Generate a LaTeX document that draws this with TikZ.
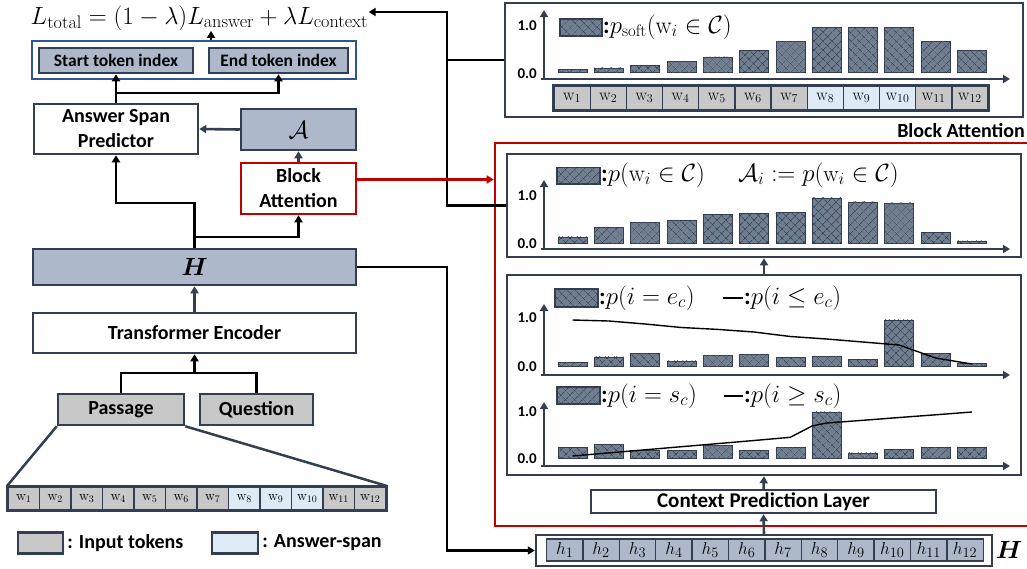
\documentclass[tikz,border=0pt]{standalone}
\usepackage{amsmath}
\usepackage{fontspec}
\setsansfont{Carlito}
\usetikzlibrary{arrows.meta,patterns.meta,calc}
\definecolor{dk}{RGB}{51,63,80}
\definecolor{gb}{RGB}{173,185,202}
\definecolor{tg}{RGB}{200,200,200}
\definecolor{tb}{RGB}{222,235,247}
\definecolor{rd}{RGB}{192,0,0}
\definecolor{bl}{RGB}{47,85,151}
\definecolor{barf}{RGB}{112,126,145}
\definecolor{hatchc}{RGB}{40,50,64}
\newcommand\lbl{\sffamily\bfseries\fontsize{20}{25}\selectfont}
\newcommand\smlbl{\sffamily\bfseries\fontsize{17.5}{20}\selectfont}
\newcommand\axlbl{\sffamily\bfseries\fontsize{15}{17}\selectfont}
\newcommand\mfont{\fontsize{24}{27}\selectfont}
\newcommand\barsrow[2]{%
  \foreach \hh [count=\kk from 0] in {#2} {\draw[hbar] ({558+36.3*\kk},#1) rectangle ++(29,-\hh);}}
\begin{document}
\begin{tikzpicture}[x=1pt,y=-1pt,
  bx/.style={draw=dk, line width=2.5pt, inner sep=0pt, align=center, font=\lbl},
  ln/.style={black, line width=2.8pt},
  arr/.style={ln, -{Triangle[length=7pt,width=8pt]}},
  darr/.style={dk, line width=2.6pt, -{Triangle[length=7pt,width=8pt]}},
  rarr/.style={rd, line width=2.6pt, -{Triangle[length=7pt,width=8pt]}},
  ax/.style={dk, line width=2.2pt, -{Triangle[length=7pt,width=8pt]}},
  axl/.style={font=\axlbl, anchor=east, inner sep=1pt},
  hbar/.style={draw=dk, line width=0.6pt, fill=barf,
    postaction={pattern={Lines[angle=45,distance=6.5pt,line width=0.5pt]},pattern color=hatchc},
    postaction={pattern={Lines[angle=-45,distance=6.5pt,line width=0.5pt]},pattern color=hatchc}},
  cell/.style={draw=dk, line width=1.3pt, inner sep=0pt},
  leg/.style={anchor=west, inner sep=0pt, font=\mfont},
]
\useasboundingbox (0,0) rectangle (1027,568);

% ---------- left column ----------
\node[font=\fontsize{26}{29}\selectfont, inner sep=0.5pt, anchor=base west] (loss) at (30,24) {$L_{\text{total}} = (1-\lambda)L_{\text{answer}} + \lambda L_{\text{context}}$};
\coordinate (jy) at (0,12);
\coordinate (lossin) at (loss.east |- jy);
\node[draw=bl, line width=2pt, minimum width=324, minimum height=38, inner sep=0] (outer) at (194,60) {};
\node[bx, fill=gb, minimum width=154, minimum height=25, font=\smlbl] (start) at (116,60.5) {Start token index};
\node[bx, fill=gb, minimum width=139, minimum height=25, font=\smlbl] (endt) at (278.5,60.5) {End token index};
\node[bx, fill=white, minimum width=164, minimum height=50] (asp) at (116,129) {Answer Span\\Predictor};
\node[bx, fill=gb, minimum width=115, minimum height=41] (A) at (298.5,129.5) {\fontsize{30}{32}\selectfont$\mathcal{A}$};
\node[bx, draw=rd, fill=white, minimum width=115, minimum height=51] (ba) at (298.5,188.5) {Block\\Attention};
\node[bx, fill=gb, minimum width=323, minimum height=36] (H) at (194.5,267) {\fontsize{31}{32}\selectfont$\boldsymbol{H}$};
\node[bx, fill=white, minimum width=323, minimum height=40] (te) at (194.5,333) {Transformer Encoder};
\node[bx, fill=tg, minimum width=126, minimum height=31] (pas) at (121,409.5) {Passage};
\node[bx, fill=tg, minimum width=113, minimum height=31] (que) at (256.5,409.5) {Question};

% passage tokens
\node[draw=dk, line width=2pt, minimum width=378, minimum height=23, inner sep=0] (prow) at (197,498.5) {};
\foreach \i/\c in {1/tg,2/tg,3/tg,4/tg,5/tg,6/tg,7/tg,8/tb,9/tb,10/tb,11/tg,12/tg}
  \node[cell, fill=\c, minimum width=31.5, minimum height=23, font=\fontsize{14}{16}\selectfont] (pw\i) at ({8+31.5*(\i-0.5)},498.5) {$\mathrm{w}_{\i}$};
\draw[dk, line width=2pt] (prow.north west) rectangle (prow.south east);
\draw[dk, line width=2.5pt] (pas.south west) -- (prow.north west);
\draw[dk, line width=2.5pt] (pas.south east) -- (prow.north east);

% legend
\node[cell, line width=2.5pt, fill=tg, minimum width=45, minimum height=21] (lg1) at (40.5,543) {};
\node[anchor=west, font=\lbl, inner sep=3pt] (lt1) at (lg1.east) {: Input tokens};
\node[cell, line width=2.5pt, fill=tb, minimum width=46, minimum height=21] (lg2) at (235,543) {};
\node[anchor=west, font=\lbl, inner sep=3pt] (lt2) at (lg2.east) {: Answer-span};

% junctions
\coordinate (j1) at (0,203);
\coordinate (j2) at (0,237);
\coordinate (j3) at (0,93);
\coordinate (j4) at (0,373);
\coordinate (jx) at (447,0);

% left connectors
\draw[arr] (outer.north -| 211,0) -- (loss.south -| 211,0);
\draw[arr] (asp.north) -- (start.south);
\draw[arr] (asp.north |- j3) -| (endt.south);
\draw[darr] (A.west) -- (asp.east);
\draw[darr] (ba.north) -- (A.south);
\draw[arr] (H.north) -- (H.north |- j1) -| (asp.south);
\draw[arr] (H.north |- j2) -| (ba.south);
\draw[darr] (te.north) -- (H.south);
\draw[ln] (pas.north) -- (pas.north |- j4) -- (que.north |- j4) -- (que.north);
\draw[arr] (te.south |- j4) -- (te.south);

% ---------- right side ----------
\node[draw=rd, line width=2.6pt, minimum width=540, minimum height=383, inner sep=0] (red) at (765,334.5) {};
\node[anchor=east, font=\lbl, inner sep=0pt] (balbl) at (1025,131) {Block Attention};

\node[bx, fill=white, minimum width=518, minimum height=114] (top) at (764,60) {};
\node[bx, fill=white, minimum width=514, minimum height=103] (mid) at (764,205.5) {};
\node[bx, fill=white, minimum width=514, minimum height=200] (bot) at (764,375) {};
\node[bx, fill=white, minimum width=345, minimum height=23, font=\sffamily\bfseries\fontsize{21}{24}\selectfont] (cpl) at (763.5,501.5) {Context Prediction Layer};
\node[bx, fill=white, minimum width=456, minimum height=31] (hrow) at (764,550.5) {};
\foreach \i in {1,...,12}
  \node[cell, fill=gb, minimum width=36.4, minimum height=22, font=\fontsize{19}{20}\selectfont] (h\i) at ({546.5+36.4*(\i-0.5)},550) {$h_{\i}$};
\node[inner sep=0pt] (Hr) at (1009,550) {\fontsize{32}{34}\selectfont$\boldsymbol{H}$};

% top chart
\barsrow{72.6}{3.1,4.8,7.5,11,15.8,21.9,31.5,45.2,45.2,45.2,31.5,21.9}
\draw[ax] (544,79) -- (544,10);
\draw[ax] (541,79) -- (1010,79);
\node[axl] (t10) at (538,26) {1.0};
\node[axl] (t00) at (538,74) {0.0};
\foreach \i/\c in {1/tg,2/tg,3/tg,4/tg,5/tg,6/tg,7/tg,8/tb,9/tb,10/tb,11/tg,12/tg}
  \node[cell, fill=\c, minimum width=36.17, minimum height=24, font=\fontsize{17}{18}\selectfont] (tw\i) at ({554+36.17*(\i-0.5)},98) {$\mathrm{w}_{\i}$};
\draw[dk, line width=1.8pt] (tw1.north west) rectangle (tw12.south east);
\draw[hbar, line width=1.2pt] (560,19) rectangle (602,36);
\node[leg] (tl1) at (603,27) {{\sffamily\bfseries :}$p_{\text{soft}}(\mathrm{w}_i \in \mathcal{C})$};

% middle chart
\barsrow{243}{6.2,15.8,20.5,22.6,28.4,29.5,30.5,45.2,41.1,40.1,10.6,2.1}
\draw[ax] (544,249) -- (544,180);
\draw[ax] (541,249) -- (1010,249);
\node[axl] (m10) at (538,196) {1.0};
\node[axl] (m00) at (538,244) {0.0};
\draw[hbar, line width=1.2pt] (557,167.5) rectangle (600,184);
\node[leg] (ml1) at (601,175) {{\sffamily\bfseries :}$p(\mathrm{w}_i \in \mathcal{C})$};
\node[leg, font=\fontsize{23}{26}\selectfont] (ml2) at (738,175) {$\mathcal{A}_i := p(\mathrm{w}_i \in \mathcal{C})$};

% end chart
\barsrow{366}{3.4,9.2,12.7,5.1,11,12,8.6,9.6,6.8,46.2,12.7,2.7}
\draw[ax] (544,375) -- (544,304);
\draw[ax] (541,375) -- (1010,375);
\node[axl] (e10) at (538,318) {1.0};
\node[axl] (e00) at (538,367) {0.0};
\draw[black, line width=1.4pt] plot coordinates {(572.5,320) (608.8,321) (645.1,324) (681.4,327.5) (717.7,329.4) (754,332) (790.3,336.5) (826.6,339) (862.9,342) (899.2,345) (935.5,358) (971.8,364)};
\draw[hbar, line width=1.2pt] (555,289) rectangle (598,307);
\node[leg] (el1) at (599,298) {{\sffamily\bfseries :}$p(i = e_c)$};
\draw[black, line width=1.4pt] (723,298) -- (743,298);
\node[leg] (el2) at (744,298) {{\sffamily\bfseries :}$p(i \le e_c)$};

% start chart
\barsrow{458}{10.3,14,7.9,7.9,12.3,7.9,10.3,46.2,5.1,8.6,11,10.3}
\draw[ax] (544,466) -- (544,402);
\draw[ax] (541,466) -- (1010,466);
\node[axl] (s10) at (538,412) {1.0};
\node[axl] (s00) at (538,459) {0.0};
\draw[black, line width=1.4pt] plot coordinates {(572.5,456) (608.8,452.9) (645.1,449.8) (681.4,446.7) (717.7,443.6) (754,440.5) (790.3,437.3) (812,426) (826.6,423) (862.9,420.3) (899.2,417.5) (935.5,414.8) (971.8,412)};
\draw[hbar, line width=1.2pt] (557,387) rectangle (600,404);
\node[leg] (sl1) at (601,396) {{\sffamily\bfseries :}$p(i = s_c)$};
\draw[black, line width=1.4pt] (724,396) -- (743,396);
\node[leg] (sl2) at (744,396) {{\sffamily\bfseries :}$p(i \ge s_c)$};

% right connectors
\draw[darr] (hrow.north) -- (cpl.south);
\draw[darr] (cpl.north) -- (bot.south);
\draw[darr] (bot.north) -- (mid.south);
\draw[ln] (top.west) -- (top.west -| jx);
\draw[arr] (mid.west) -- (mid.west -| jx) -- (jx |- lossin) -- (lossin);
\draw[arr] (H.east) -- (H.east -| jx) -- (jx |- hrow.west) -- (hrow.west);
\draw[rarr] ([yshift=9pt]ba.east) -- ([yshift=9pt]ba.east -| red.west);
\end{tikzpicture}
\end{document}
